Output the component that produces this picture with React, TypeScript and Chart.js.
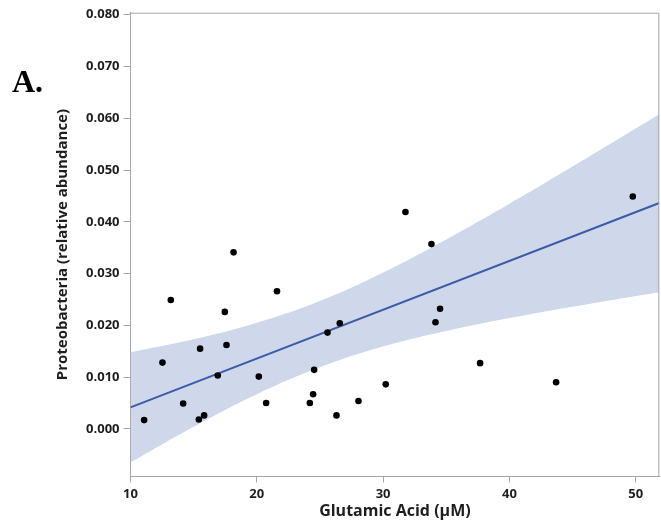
import React, { useEffect, useRef } from "react";
import { Chart, registerables } from "chart.js";

Chart.register(...registerables);

// Observations: glutamic acid (µM) vs Proteobacteria relative abundance
const glutamicAcid = [
  11.08, 12.53, 13.19, 14.17, 15.41, 15.51, 15.83, 16.91, 17.47, 17.6,
  18.16, 20.16, 20.74, 21.6, 24.2, 24.46, 24.54, 25.6, 26.31, 26.57,
  28.05, 30.21, 31.77, 33.83, 34.15, 34.51, 37.68, 43.7, 49.77,
];
const proteobacteria = [
  0.0017, 0.0128, 0.0249, 0.0049, 0.0018, 0.0155, 0.0026, 0.0103, 0.0226, 0.0162,
  0.0341, 0.0101, 0.005, 0.0266, 0.005, 0.0067, 0.0114, 0.0186, 0.0026, 0.0204,
  0.0054, 0.0086, 0.0419, 0.0357, 0.0206, 0.0232, 0.0127, 0.009, 0.0449,
];

// Fitted line and its confidence band
const fitX = [10, 51.87];
const fitY = [0.00415, 0.04364];
const bandX = [10, 15, 20, 25, 30, 35, 40, 45, 51.87];
const bandUpper = [0.0148, 0.0173, 0.0205, 0.0247, 0.0302, 0.0366, 0.0435, 0.0507, 0.0608];
const bandLower = [-0.0065, 0.0004, 0.0067, 0.0119, 0.0159, 0.0189, 0.0214, 0.0236, 0.0264];

// Axis ranges and ticks
const xRange = [10, 51.87];
const yRange = [-0.0092, 0.0804];
const xTicks = [10, 20, 30, 40, 50];
const yTicks = [0, 0.01, 0.02, 0.03, 0.04, 0.05, 0.06, 0.07, 0.08];

const AXIS_GREY = "#a6a6a6";
const TEXT = "#1e1e1e";
const FONT = "'Open Sans', 'DejaVu Sans', sans-serif";

const frameAndLabel = {
  id: "frameAndLabel",
  afterDraw(chart: Chart) {
    const { ctx, chartArea } = chart;
    ctx.save();
    ctx.strokeStyle = AXIS_GREY;
    ctx.lineWidth = 1;
    ctx.beginPath();
    ctx.moveTo(chartArea.left, chartArea.top + 0.5);
    ctx.lineTo(chartArea.right - 0.5, chartArea.top + 0.5);
    ctx.lineTo(chartArea.right - 0.5, chartArea.bottom);
    ctx.stroke();
    ctx.fillStyle = "#000";
    ctx.font = "bold 32px 'Liberation Serif', 'Times New Roman', serif";
    ctx.textBaseline = "alphabetic";
    ctx.textAlign = "left";
    ctx.fillText("A.", 12, 92);
    ctx.restore();
  },
};

export default function App() {
  const ref = useRef<HTMLCanvasElement | null>(null);

  useEffect(() => {
    if (!ref.current) return;
    const chart = new Chart(ref.current, {
      type: "scatter",
      data: {
        datasets: [
          {
            label: "Samples",
            data: glutamicAcid.map((x, i) => ({ x, y: proteobacteria[i] })),
            backgroundColor: "#000",
            borderWidth: 0,
            pointRadius: 3.3,
            order: 0,
          },
          {
            label: "Fit",
            data: fitX.map((x, i) => ({ x, y: fitY[i] })),
            showLine: true,
            borderColor: "#3b5ba8",
            borderWidth: 2,
            pointRadius: 0,
            order: 1,
          },
          {
            label: "Upper",
            data: bandX.map((x, i) => ({ x, y: bandUpper[i] })),
            showLine: true,
            borderWidth: 0,
            borderColor: "rgba(0,0,0,0)",
            backgroundColor: "#cfd8ea",
            pointRadius: 0,
            tension: 0.4,
            fill: "+1",
            order: 2,
          },
          {
            label: "Lower",
            data: bandX.map((x, i) => ({ x, y: bandLower[i] })),
            showLine: true,
            borderWidth: 0,
            borderColor: "rgba(0,0,0,0)",
            pointRadius: 0,
            tension: 0.4,
            order: 3,
          },
        ],
      },
      options: {
        responsive: false,
        animation: false,
        layout: { autoPadding: false, padding: { top: 12.7, right: 1.7, left: 0, bottom: 0 } },
        plugins: {
          legend: { display: false },
          tooltip: { enabled: false },
        },
        scales: {
          x: {
            type: "linear",
            min: xRange[0],
            max: xRange[1],
            afterFit(scale: any) {
              scale.height = 49.5;
              scale.paddingLeft = 0;
              scale.paddingRight = 0;
            },
            afterBuildTicks(scale: any) {
              scale.ticks = xTicks.map((v) => ({ value: v }));
            },
            grid: {
              drawOnChartArea: false,
              drawTicks: true,
              tickLength: 6,
              color: AXIS_GREY,
            },
            border: { display: true, color: AXIS_GREY },
            ticks: {
              padding: 4,
              color: TEXT,
              font: { family: FONT, size: 13, weight: "bold" },
              callback: (v: any) => String(v),
            },
            title: {
              display: true,
              text: "Glutamic Acid (µM)",
              color: TEXT,
              font: { family: FONT, size: 16, weight: "bold" },
              padding: { top: 0, bottom: 5.4 },
            },
          },
          y: {
            type: "linear",
            min: yRange[0],
            max: yRange[1],
            afterFit(scale: any) {
              scale.width = 130.5;
              scale.paddingTop = 0;
              scale.paddingBottom = 0;
            },
            afterBuildTicks(scale: any) {
              scale.ticks = yTicks.map((v) => ({ value: v }));
            },
            grid: {
              drawOnChartArea: false,
              drawTicks: true,
              tickLength: 7,
              color: AXIS_GREY,
            },
            border: { display: true, color: AXIS_GREY },
            ticks: {
              padding: 4,
              color: TEXT,
              font: { family: FONT, size: 13, weight: "bold" },
              callback: (v: any) => Number(v).toFixed(3),
            },
            title: {
              display: true,
              text: "Proteobacteria (relative abundance)",
              color: TEXT,
              font: { family: FONT, size: 15, weight: "bold" },
              padding: { top: 54, bottom: 0 },
            },
          },
        },
      },
      plugins: [frameAndLabel],
    });
    return () => chart.destroy();
  }, []);

  return (
    <div style={{ position: "fixed", left: 0, top: 0, width: 661, height: 526, background: "#fff" }}>
      <canvas ref={ref} width={661} height={526} style={{ width: 661, height: 526, display: "block" }} />
    </div>
  );
}
